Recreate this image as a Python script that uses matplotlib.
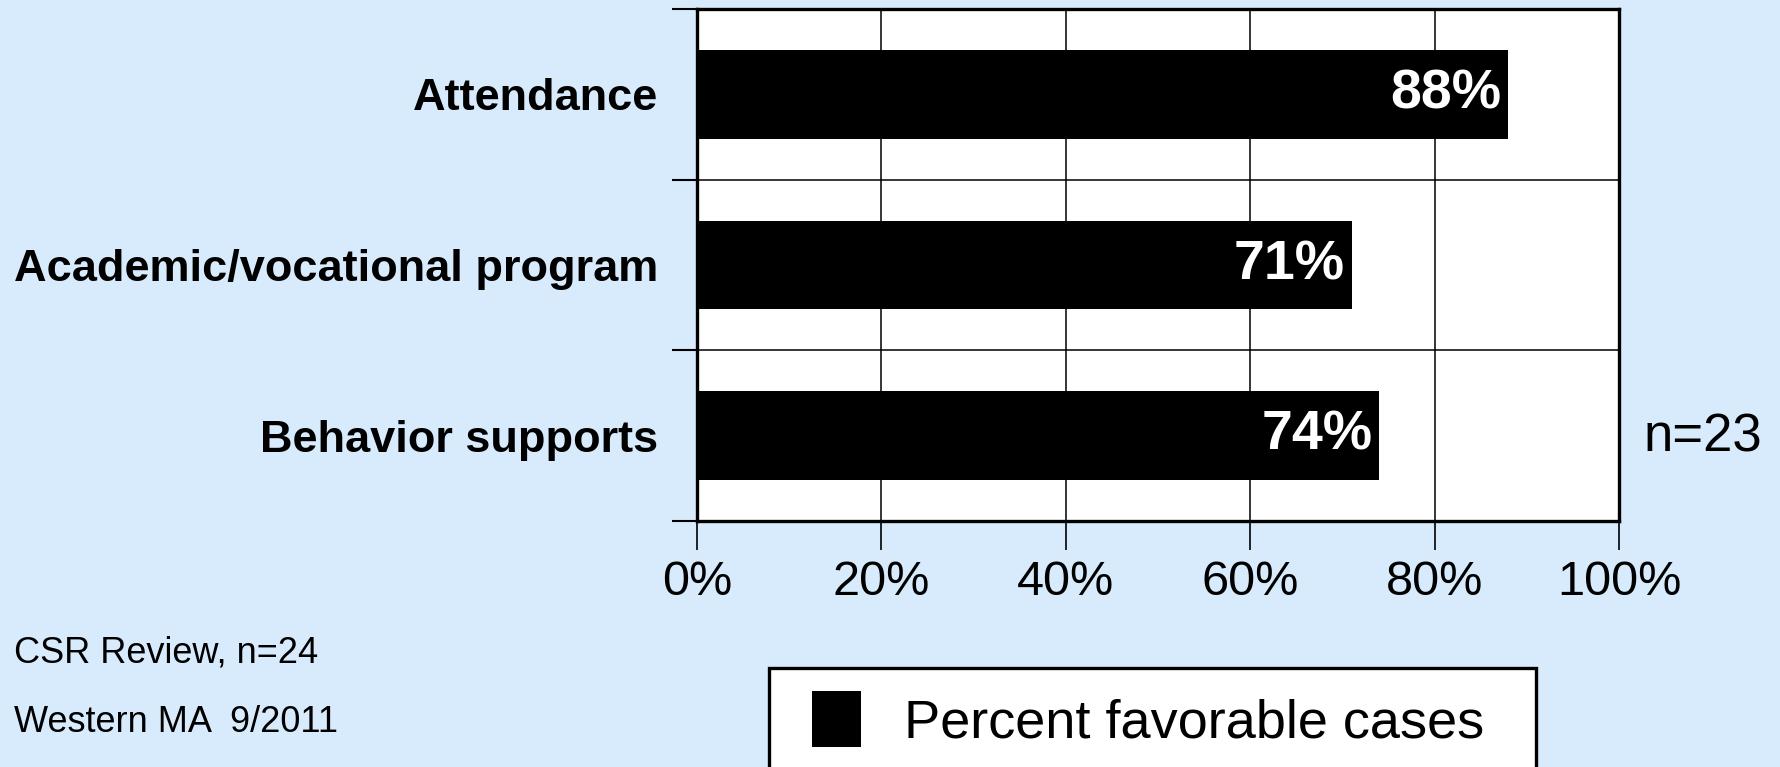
# Horizontal bar chart of percent favorable cases by review area.

import matplotlib
matplotlib.use('Agg')
import matplotlib.pyplot as plt
from matplotlib.patches import Rectangle

categories = ['Attendance', 'Academic/vocational program', 'Behavior supports']
values = [88, 71, 74]
value_labels = ['88%', '71%', '74%']
x_ticks = [0, 20, 40, 60, 80, 100]
x_tick_labels = ['0%', '20%', '40%', '60%', '80%', '100%']
series_name = 'Percent favorable cases'
n_label = 'n=23'
notes = ['CSR Review, n=24', 'Western MA  9/2011']

bg = '#d7ebfd'
W, H = 1781, 767

plt.rcParams['font.family'] = ['Liberation Sans', 'DejaVu Sans']

fig = plt.figure(figsize=(W / 100, H / 100), dpi=100, facecolor=bg)
ax = fig.add_axes([697 / W, 1 - 521 / H, 922 / W, 512 / H])
ax.set_facecolor('white')

ypos = [i + 0.5 for i in range(len(categories))]
bars = ax.barh(ypos, values, height=0.52, color='black', label=series_name, zorder=3)

for y, v, lab in zip(ypos, values, value_labels):
  ax.annotate(lab, xy=(v, y), xytext=(-5, 0), textcoords='offset points',
              ha='right', va='center', color='white', fontsize=40,
              fontweight='bold', zorder=4)

ax.set_xlim(0, 100)
ax.set_ylim(len(categories), 0)

ax.set_xticks(x_ticks)
ax.set_xticklabels(x_tick_labels, fontsize=35)
ax.tick_params(axis='x', direction='out', length=21, width=1.2, pad=7)

ax.set_yticks(ypos)
ax.set_yticklabels(categories, fontsize=32.5, fontweight='bold')
ax.set_yticks(range(len(categories) + 1), minor=True)
ax.tick_params(axis='y', which='major', length=0, pad=28)
ax.tick_params(axis='y', which='minor', direction='out', length=18, width=1.5)

ax.grid(axis='x', which='major', color='black', linewidth=1.1, zorder=1)
ax.grid(axis='y', which='minor', color='black', linewidth=1.1, zorder=1)
ax.set_axisbelow(True)
for s in ax.spines.values():
  s.set_linewidth(2.4)
  s.set_zorder(5)

fig.text(1644 / W, 1 - 437 / H, n_label, fontsize=38, va='center', ha='left')
fig.text(14 / W, 1 - 653 / H, notes[0], fontsize=26, va='center', ha='left')
fig.text(14 / W, 1 - 722 / H, notes[1], fontsize=26, va='center', ha='left')

# legend box runs off the bottom edge, so the frame is drawn separately
frame = Rectangle((769 / W, 1 - 800 / H), 767 / W, 132 / H, transform=fig.transFigure,
                  facecolor='white', edgecolor='black', linewidth=2.4, clip_on=False)
fig.patches.append(frame)
leg = fig.legend(handles=[bars], labels=[series_name], loc='center left',
                 bbox_to_anchor=(812 / W, 1 - 720 / H), fontsize=39,
                 frameon=False, handlelength=0.9, handleheight=1.2,
                 handletextpad=0.8, borderpad=0, borderaxespad=0)

fig.savefig('out.png', dpi=100, facecolor=bg)
